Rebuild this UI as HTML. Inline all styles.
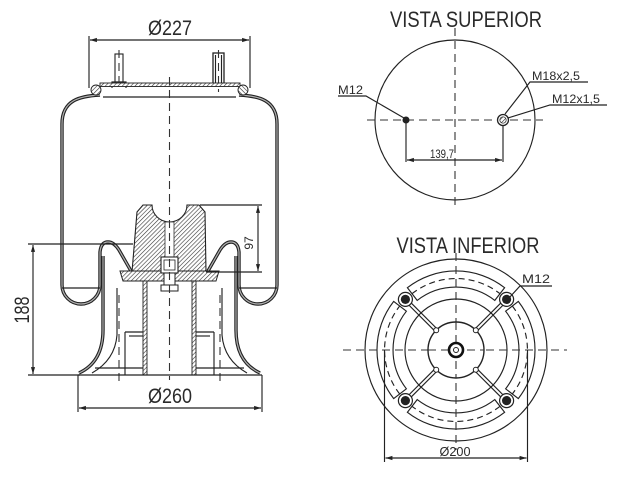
<!DOCTYPE html>
<html><head><meta charset="utf-8"><style>
html,body{margin:0;padding:0;background:#fff;}
svg{display:block;}
text{font-family:"Liberation Sans",Arial,sans-serif;fill:#2a2a2a;}
.s{stroke:#222;stroke-width:1.15;fill:none;}
.d{stroke:#333;stroke-width:1.1;fill:none;stroke-dasharray:8,5;}
.wo{stroke:#222;stroke-width:3.4;fill:none;}
.wi{stroke:#b0b0b0;stroke-width:1.2;fill:none;}
</style></head><body>
<svg width="640" height="480" viewBox="0 0 640 480" xmlns="http://www.w3.org/2000/svg">
<defs>
<pattern id="h" width="3" height="3" patternUnits="userSpaceOnUse" patternTransform="rotate(45)">
<rect width="3" height="3" fill="#fff"/><line x1="0" y1="0" x2="0" y2="3" stroke="#333" stroke-width="1.2"/></pattern>
<marker id="a" viewBox="0 0 10 10" refX="10" refY="5" markerWidth="6" markerHeight="6" orient="auto-start-reverse"><path d="M0,2 L10,5 L0,8z" fill="#222"/></marker>
<path id="bw" d="M100,95 C80,96 62,100 62,124 L62,285 A19,19 0 0 0 100,285 L100,252 Q101,242 108,242 Q114,242 119,250 L131,271"/>
<path id="sk" d="M103,256 L103,330 Q103,362 79,373"/>
<g id="L">
<use href="#bw" class="wo"/><use href="#bw" class="wi"/>
<circle cx="96" cy="90" r="5" fill="url(#h)" stroke="#222" stroke-width="0.9"/>
<line class="s" x1="62" y1="288" x2="100" y2="288"/>
<use href="#sk" class="wo"/><use href="#sk" class="wi"/>
<path class="s" d="M117,288 L117,335 Q115,360 92,373"/>
<line class="s" x1="125" y1="332" x2="125" y2="375"/>
<line class="s" x1="125" y1="332" x2="143" y2="332"/>
<line class="s" x1="129" y1="336" x2="143" y2="336"/>
<line class="s" x1="95" y1="368" x2="143" y2="368"/>
<line class="d" x1="119" y1="295" x2="119" y2="384"/>
</g>
<g id="band">
<path class="s" stroke-width="1.2" d="M407.4,287.7 A79,79 0 0 1 504.6,287.7 L494.8,300.4 A63,63 0 0 0 417.2,300.4 Z"/>
<path class="s" stroke-dasharray="6,4" d="M412,293.7 A71.5,71.5 0 0 1 500,293.7"/>
</g>
<g id="spoke">
<line class="s" x1="476.9" y1="331.3" x2="502.7" y2="305.5"/>
<line class="s" x1="474.7" y1="329.1" x2="500.5" y2="303.3"/>
<circle cx="506.6" cy="299.4" r="7" fill="#fff" stroke="#222" stroke-width="1.2"/>
<circle cx="506.6" cy="299.4" r="4.6" fill="#222"/>
</g>
</defs>

<!-- Ø227 -->
<line class="s" x1="89" y1="36" x2="89" y2="88"/>
<line class="s" x1="250" y1="36" x2="250" y2="88"/>
<line class="s" x1="90" y1="40" x2="249" y2="40" marker-start="url(#a)" marker-end="url(#a)"/>
<text x="170" y="35" font-size="21" text-anchor="middle" textLength="44" lengthAdjust="spacingAndGlyphs">Ø227</text>

<!-- studs -->
<rect x="115" y="54" width="8" height="28" fill="#fff" stroke="#222" stroke-width="1.1"/>
<path class="s" d="M112,88 L112,82 L126,82 L126,88"/>
<line class="d" x1="119" y1="50" x2="119" y2="86" stroke-dasharray="4,3"/>
<rect x="213" y="53" width="11" height="33" fill="#fff" stroke="#222" stroke-width="1.3"/>
<line class="s" x1="215.5" y1="55" x2="215.5" y2="86"/>
<line class="s" x1="221.5" y1="55" x2="221.5" y2="86"/>
<line class="d" x1="218.5" y1="50" x2="218.5" y2="92" stroke-dasharray="4,3"/>

<!-- bead plate -->
<rect x="100" y="83" width="140" height="3.5" fill="url(#h)" stroke="#222" stroke-width="0.9"/>
<line class="s" x1="103" y1="97" x2="236" y2="97"/>

<use href="#L"/>
<use href="#L" transform="matrix(-1 0 0 1 339 0)"/>

<!-- piston crown -->
<path d="M137,212 L143,205 L152,205 A17.5,17 0 0 0 187,205 L199,205 L205,212 L206,272 L132,272 Z" fill="url(#h)" stroke="#222" stroke-width="1.1"/>
<rect x="165" y="222" width="9" height="36" fill="#fff" stroke="#333" stroke-width="0.8"/>
<path d="M120,271 L219,271 L216,281 L123,281 Z" fill="url(#h)" stroke="#222" stroke-width="1"/>
<rect x="161" y="257" width="17" height="16" fill="#fff" stroke="#222" stroke-width="1.1"/>
<rect x="164" y="260" width="11" height="10" fill="none" stroke="#222" stroke-width="0.8"/>
<rect x="164" y="273" width="11" height="12" fill="#fff" stroke="#222" stroke-width="1"/>
<rect x="161" y="285" width="17" height="6" fill="#fff" stroke="#222" stroke-width="1"/>
<rect x="143" y="281" width="4" height="94" fill="url(#h)" stroke="#222" stroke-width="0.9"/>
<rect x="192" y="281" width="4" height="94" fill="url(#h)" stroke="#222" stroke-width="0.9"/>
<line class="s" x1="78" y1="375" x2="262" y2="375" stroke-width="1.3"/>

<line class="d" x1="169.5" y1="77" x2="169.5" y2="380"/>

<!-- 188 -->
<line class="s" x1="28" y1="244" x2="133" y2="244"/>
<line class="s" x1="28" y1="375" x2="80" y2="375"/>
<line class="s" x1="33" y1="245" x2="33" y2="374" marker-start="url(#a)" marker-end="url(#a)"/>
<text transform="translate(29,310) rotate(-90)" font-size="21" text-anchor="middle" textLength="27" lengthAdjust="spacingAndGlyphs">188</text>

<!-- 97 -->
<line class="s" x1="200" y1="205" x2="262" y2="205"/>
<line class="s" x1="206" y1="272" x2="262" y2="272"/>
<line class="s" x1="258" y1="206" x2="258" y2="271" marker-start="url(#a)" marker-end="url(#a)"/>
<text transform="translate(253,243) rotate(-90)" font-size="12" text-anchor="middle">97</text>

<!-- Ø260 -->
<line class="s" x1="78" y1="375" x2="78" y2="412"/>
<line class="s" x1="262" y1="375" x2="262" y2="412"/>
<line class="s" x1="79" y1="408" x2="261" y2="408" marker-start="url(#a)" marker-end="url(#a)"/>
<text x="170" y="403" font-size="21" text-anchor="middle" textLength="44" lengthAdjust="spacingAndGlyphs">Ø260</text>

<!-- TOP VIEW -->
<text x="466" y="27" font-size="22" text-anchor="middle" textLength="152" lengthAdjust="spacingAndGlyphs">VISTA SUPERIOR</text>
<circle cx="455" cy="120" r="80" class="s" stroke-width="1.2"/>
<line class="d" x1="367" y1="120" x2="543" y2="120" stroke-dasharray="10,6"/>
<line class="d" x1="455" y1="28" x2="455" y2="210" stroke-dasharray="10,6"/>
<circle cx="406" cy="120" r="3.5" fill="#222"/>
<circle cx="503" cy="120" r="5.5" fill="#fff" stroke="#222" stroke-width="1.3"/>
<circle cx="503" cy="120" r="3.2" fill="url(#h)" stroke="#222" stroke-width="0.7"/>
<line class="s" x1="406" y1="123" x2="406" y2="162"/>
<line class="s" x1="503" y1="125" x2="503" y2="162"/>
<line class="s" x1="407" y1="160" x2="502" y2="160" marker-start="url(#a)" marker-end="url(#a)"/>
<text x="442" y="158" font-size="12" text-anchor="middle" textLength="24" lengthAdjust="spacingAndGlyphs">139,7</text>
<text x="338" y="94" font-size="12" textLength="25" lengthAdjust="spacingAndGlyphs">M12</text>
<polyline class="s" points="338,96 366,96 404,118"/>
<text x="532" y="80" font-size="12" textLength="48" lengthAdjust="spacingAndGlyphs">M18x2,5</text>
<polyline class="s" points="588,82 530,82 505,114"/>
<text x="552" y="103" font-size="12" textLength="48" lengthAdjust="spacingAndGlyphs">M12x1,5</text>
<polyline class="s" points="607,105 550,105 508,118"/>

<!-- BOTTOM VIEW -->
<text x="468" y="253" font-size="22" text-anchor="middle" textLength="143" lengthAdjust="spacingAndGlyphs">VISTA INFERIOR</text>
<circle cx="456" cy="350" r="91" class="s" stroke-width="1.4"/>
<use href="#band"/>
<use href="#band" transform="rotate(90 456 350)"/>
<use href="#band" transform="rotate(180 456 350)"/>
<use href="#band" transform="rotate(270 456 350)"/>
<circle cx="456" cy="350" r="51" class="s" stroke-width="1.2"/>
<line class="d" x1="343" y1="350" x2="567" y2="350" stroke-dasharray="9,6"/>
<line class="d" x1="456" y1="253" x2="456" y2="450" stroke-dasharray="9,6"/>
<use href="#spoke"/>
<use href="#spoke" transform="rotate(90 456 350)"/>
<use href="#spoke" transform="rotate(180 456 350)"/>
<use href="#spoke" transform="rotate(270 456 350)"/>
<circle cx="456" cy="350" r="28" fill="#fff" stroke="#222" stroke-width="1.4"/>
<g fill="#fff" stroke="#222" stroke-width="1">
<circle cx="475.8" cy="330.2" r="2.5"/><circle cx="436.2" cy="330.2" r="2.5"/>
<circle cx="475.8" cy="369.8" r="2.5"/><circle cx="436.2" cy="369.8" r="2.5"/>
</g>
<line class="d" x1="428" y1="350" x2="484" y2="350" stroke-dasharray="6,4"/>
<line class="d" x1="456" y1="322" x2="456" y2="378" stroke-dasharray="6,4"/>
<circle cx="456" cy="350" r="7" fill="#fff" stroke="#111" stroke-width="2.6"/>
<circle cx="456" cy="350" r="2.5" fill="#fff" stroke="#222" stroke-width="1"/>
<line class="s" x1="384.5" y1="350" x2="384.5" y2="462"/>
<line class="s" x1="527.5" y1="350" x2="527.5" y2="462"/>
<line class="s" x1="385.5" y1="458" x2="526.5" y2="458" marker-start="url(#a)" marker-end="url(#a)"/>
<text x="455" y="456" font-size="13" text-anchor="middle" textLength="31" lengthAdjust="spacingAndGlyphs">Ø200</text>
<text x="522" y="283" font-size="12" textLength="28" lengthAdjust="spacingAndGlyphs">M12</text>
<polyline class="s" points="552,286 520,286 509,298"/>
</svg>
</body></html>
